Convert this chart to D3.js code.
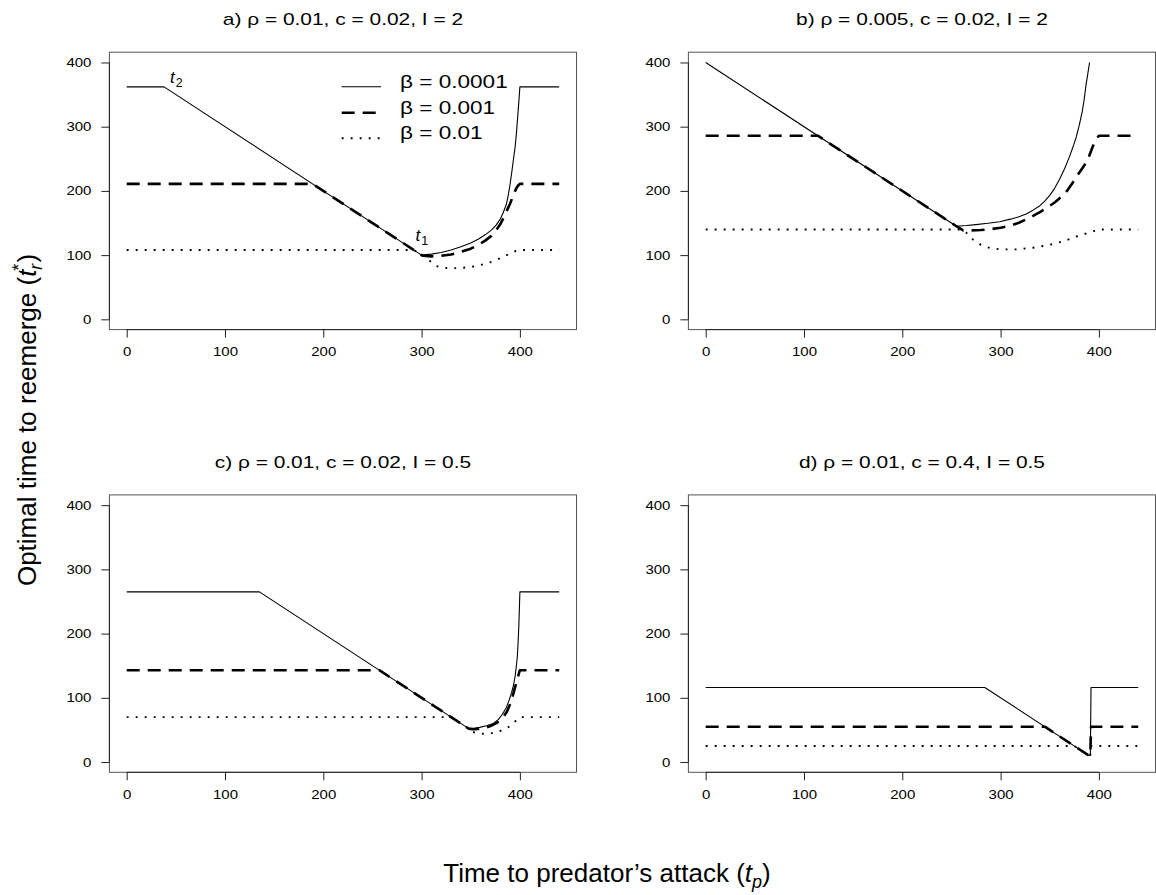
<!DOCTYPE html>
<html>
<head>
<meta charset="utf-8">
<script src="https://cdn.jsdelivr.net/npm/d3@7"></script>
<style>
  body { margin: 0; background: #fff; }
  svg { display: block; font-family: "Liberation Sans", Arial, Helvetica, sans-serif; }
</style>
</head>
<body>
<svg id="chart" width="1156" height="895"></svg>
<script>
// ---- Data -------------------------------------------------------------
const titles = [
  "a) ρ = 0.01, c = 0.02, I = 2",
  "b) ρ = 0.005, c = 0.02, I = 2",
  "c) ρ = 0.01, c = 0.02, I = 0.5",
  "d) ρ = 0.01, c = 0.4, I = 0.5"
];
const xTicks = [0, 100, 200, 300, 400];
const yTicks = [0, 100, 200, 300, 400];
const xDomain = [0, 440];
const yDomain = [0, 400];
const betaLabels = ["β = 0.0001", "β = 0.001", "β = 0.01"];

// [time to predator's attack, optimal time to reemerge]
// panel a
const aSolid = [[0,362],[38,362],[300,100],[310,101.5],[320,104],[330,108],[340,113],[350,119],[358,125],[365,132],[371,139],[376,147],[380,156],[383,166],[386,178],[388,192],[390,210],[392,232],[393.5,250],[395,266],[396.5,290],[398,320],[399,340],[400,362],[440,362]];
const aDashed = [[0,211],[189,211],[300,100],[304,98.5],[310,98],[320,99],[330,101],[340,105],[350,110],[358,116],[365,123],[371,130],[376,139],[380,148],[384,160],[387,170],[390,180],[393,192],[396,203],[398,208],[400,211],[440,211]];
const aDotted = [[0,108],[292,108],[300,100],[305,95],[310,89],[315,83],[320,80.5],[330,79.5],[340,80],[350,81.5],[360,84.5],[370,89],[380,95],[388,101],[395,106],[400,108],[440,108]];
// panel b
const bSolid = [[0,400],[255,145],[265,146],[275,147.5],[287,149.5],[299,152],[310,156],[318,159.5],[326,164],[333,170],[340,177],[345,184],[350,193],[355,204],[360,218],[365,234],[370,253],[374,270],[377,284],[380,302],[383,323],[385,342],[387,366],[389,385],[390.5,400]];
const bDashed = [[0,286],[114,286],[255,145],[262,138.5],[270,138.5],[280,139],[290,140.5],[300,142.5],[310,146],[318,150],[326,155.5],[333,161],[340,167],[347,173.5],[355,182],[362,191],[368,201],[373,212],[378,224],[383,235],[387,244],[390,254],[393,266],[396,277],[398,282],[400,286],[440,286]];
const bDotted = [[0,140],[260,140],[265,135],[272,124],[280,116],[289,111],[300,109],[316,109],[333,111.5],[350,116],[365,122],[377,129],[390,135],[400,140],[440,140]];
// panel c
const cSolid = [[0,265],[135,265],[348,52],[354,52.8],[359,54],[366,56.5],[373,60],[378,66],[382,74],[386,84],[389,96],[391.5,108],[393.3,118],[395,132],[396.3,148],[397.4,164],[398.3,190],[399,215],[399.5,240],[400,265],[440,265]];
const cDashed = [[0,143],[257,143],[348,52],[352,51],[358,51.5],[364,53],[370,56],[376,60.5],[380,65],[384,72],[387,79],[390,90],[392.5,102],[394.5,113],[396.5,124],[398,132],[399.2,139],[400,143],[440,143]];
const cDotted = [[0,70],[330,70],[348,52],[352,47],[356,45],[363,44],[370,44.5],[377,47],[383,50],[388,54],[393,60],[397,66],[400,70],[440,70]];
// panel d
const dSolid = [[0,116],[284,116],[390,10],[391.3,11],[392,116],[440,116]];
const dDashed = [[0,55],[345,55],[390,10],[391.3,11],[392,55],[440,55]];
const dDotted = [[0,25],[375,25],[390,10],[391.3,11],[392,25],[440,25]];

const panelSeries = [
  [aSolid, aDashed, aDotted],
  [bSolid, bDashed, bDotted],
  [cSolid, cDashed, cDotted],
  [dSolid, dDashed, dDotted]
];

// ---- Layout & styles --------------------------------------------------
const boxes = [
  [109.4, 52.2, 576.5, 329.6],
  [688.4, 52.2, 1155.5, 329.6],
  [109.4, 494.9, 576.5, 772.3],
  [688.4, 494.9, 1155.5, 772.3]
];
const lineStyles = [
  { width: 1.1, dash: null },
  { width: 2.6, dash: "13,8" },
  { width: 1.9, dash: "1.9,7.1" }
];
const tickFont = 12.5, tickStretch = 1.2;
const titleFont = 17, titleStretch = 1.23;
const legendFont = 18.5, legendStretch = 1.22;

const svg = d3.select("#chart");

function stretchedText(parent, x, y, str, size, sx, anchor) {
  return parent.append("text")
    .attr("transform", `translate(${x},${y}) scale(${sx},1)`)
    .attr("text-anchor", anchor || "start")
    .attr("font-size", size)
    .attr("fill", "#000")
    .text(str);
}

const padX = 0.04 * (xDomain[1] - xDomain[0]);
const padY = 0.04 * (yDomain[1] - yDomain[0]);

const scales = [];

boxes.forEach((b, i) => {
  const [x0, y0, x1, y1] = b;
  const x = d3.scaleLinear().domain([xDomain[0] - padX, xDomain[1] + padX]).range([x0, x1]);
  const y = d3.scaleLinear().domain([yDomain[0] - padY, yDomain[1] + padY]).range([y1, y0]);
  scales.push({ x, y });
  const g = svg.append("g");

  // plot frame
  g.append("rect")
    .attr("x", x0).attr("y", y0)
    .attr("width", x1 - x0).attr("height", y1 - y0)
    .attr("fill", "none").attr("stroke", "#555").attr("stroke-width", 1);

  // y axis
  const ya = g.append("g")
    .attr("transform", `translate(${x0},0)`)
    .call(d3.axisLeft(y).tickValues(yTicks).tickSize(8).tickPadding(7).tickFormat(d3.format("d")))
    .call(s => s.select(".domain").remove());
  ya.append("line")
    .attr("x1", 0).attr("x2", 0)
    .attr("y1", y(yTicks[0])).attr("y2", y(yTicks[yTicks.length - 1]))
    .attr("stroke", "#222");
  ya.selectAll(".tick line").attr("stroke", "#222");
  ya.selectAll(".tick text")
    .attr("font-size", tickFont).attr("font-family", null).attr("fill", "#000")
    .attr("transform", `scale(${tickStretch},1)`);

  // x axis
  const xa = g.append("g")
    .attr("transform", `translate(0,${y1})`)
    .call(d3.axisBottom(x).tickValues(xTicks).tickSize(8).tickPadding(10).tickFormat(d3.format("d")))
    .call(s => s.select(".domain").remove());
  xa.append("line")
    .attr("y1", 0).attr("y2", 0)
    .attr("x1", x(xTicks[0])).attr("x2", x(xTicks[xTicks.length - 1]))
    .attr("stroke", "#222");
  xa.selectAll(".tick line").attr("stroke", "#222");
  xa.selectAll(".tick text")
    .attr("font-size", tickFont).attr("font-family", null).attr("fill", "#000")
    .attr("transform", `scale(${tickStretch},1)`);

  // title
  stretchedText(g, (x0 + x1) / 2, y0 - 27, titles[i], titleFont, titleStretch, "middle");

  // curves
  const line = d3.line().x(d => x(d[0])).y(d => y(d[1]));
  panelSeries[i].forEach((data, k) => {
    const st = lineStyles[k];
    g.append("path")
      .attr("d", line(data))
      .attr("fill", "none")
      .attr("stroke", "#000")
      .attr("stroke-width", st.width)
      .attr("stroke-dasharray", st.dash)
      .attr("stroke-linejoin", "round");
  });
});

// ---- Legend (panel a) -------------------------------------------------
const legendRows = [86.7, 112.7, 138.3];
const leg = svg.append("g");
betaLabels.forEach((lab, k) => {
  const st = lineStyles[k];
  leg.append("line")
    .attr("x1", 341.7).attr("x2", 381)
    .attr("y1", legendRows[k]).attr("y2", legendRows[k])
    .attr("stroke", "#000")
    .attr("stroke-width", st.width)
    .attr("stroke-dasharray", st.dash);
  stretchedText(leg, 400, legendRows[k] + 1, lab, legendFont, legendStretch, "start");
});

// ---- t1 / t2 markers in panel a ---------------------------------------
const sa = scales[0];
function markLabel(tx, ty, sub) {
  const t = svg.append("text")
    .attr("x", tx).attr("y", ty)
    .attr("font-size", 17).attr("font-style", "italic");
  t.append("tspan").text("t");
  t.append("tspan").attr("font-size", 12.5).attr("font-style", "normal").attr("dy", 4).attr("dx", 1).text(sub);
}
markLabel(sa.x(38) + 6, sa.y(362) - 4, "2");
markLabel(sa.x(300) - 6, sa.y(100) - 14, "1");

// ---- Axis titles ------------------------------------------------------
const yl = svg.append("text")
  .attr("transform", "translate(36,420) rotate(-90)")
  .attr("text-anchor", "middle")
  .attr("font-size", 26);
yl.append("tspan").text("Optimal time to reemerge (");
yl.append("tspan").attr("font-style", "italic").text("t");
yl.append("tspan").attr("font-style", "italic").attr("font-size", 18).attr("dy", 6).text("r");
yl.append("tspan").attr("font-size", 18).attr("dy", -17).attr("dx", -7).text("*");
yl.append("tspan").attr("dy", 11).attr("dx", 1).text(")");

const xl = svg.append("text")
  .attr("x", 607).attr("y", 882)
  .attr("text-anchor", "middle")
  .attr("font-size", 26);
xl.append("tspan").text("Time to predator’s attack (");
xl.append("tspan").attr("font-style", "italic").text("t");
xl.append("tspan").attr("font-style", "italic").attr("font-size", 18).attr("dy", 6).text("p");
xl.append("tspan").attr("dy", -6).text(")");
</script>
</body>
</html>
